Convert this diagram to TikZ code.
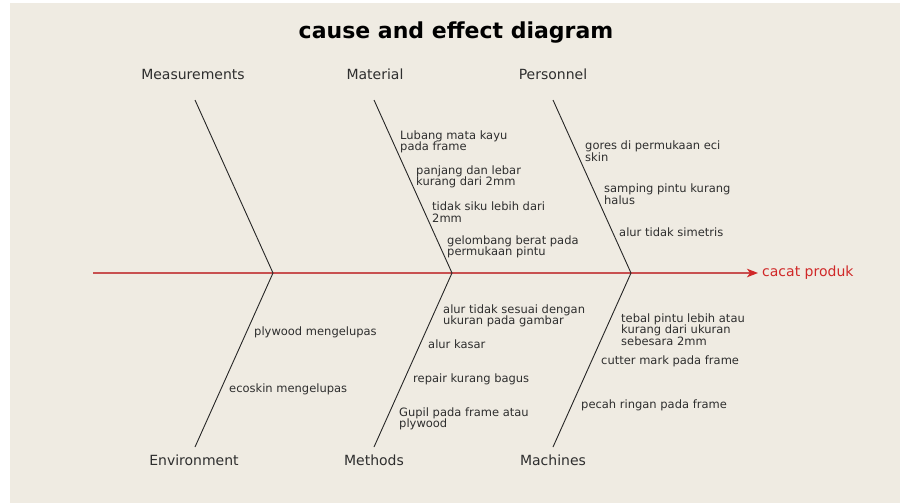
\documentclass[tikz,border=0pt]{standalone}
\usepackage{fontspec}
\setmainfont{DejaVu Sans}
\usetikzlibrary{arrows.meta}
\definecolor{bg}{HTML}{EFEBE2}
\definecolor{ink}{HTML}{2E2E2E}
\definecolor{spine}{HTML}{C85050}
\definecolor{effred}{HTML}{D02828}
\tikzset{
  cause/.style={anchor=west, align=left, inner sep=0pt, text=ink, font=\fontsize{11.5}{11.6}\selectfont},
  cat/.style={inner sep=0pt, text=ink, font=\fontsize{14}{15}\selectfont},
  rib/.style={draw=black!85, line width=0.9pt},
}
\begin{document}
\begin{tikzpicture}[x=1pt,y=-1pt]
\useasboundingbox (0,0) rectangle (900,503);
\fill[white] (0,0) rectangle (900,503);
\fill[bg] (10,3) rectangle (900,503);

\node[inner sep=0pt, font=\bfseries\fontsize{22}{24}\selectfont, text=black] (title) at (456,33) {cause and effect diagram};

% spine
\coordinate (tail) at (93,273);
\coordinate (head) at (758,273);
\coordinate (j1) at (273,273);
\coordinate (j2) at (452,273);
\coordinate (j3) at (631,273);
\draw[draw=spine, line width=1.4pt, -{Stealth[length=11pt,width=8.5pt,inset=3pt,color=effred]}] (tail) -- (head);
\node[anchor=west, inner sep=0pt, text=effred, font=\fontsize{14}{15}\selectfont] (effect) at (762,273) {cacat produk};

% category labels
\node[cat] (meas) at (193,74) {Measurements};
\node[cat] (mat) at (375,74) {Material};
\node[cat] (pers) at (553,74) {Personnel};
\node[cat] (env) at (194,460) {Environment};
\node[cat] (meth) at (374,460) {Methods};
\node[cat] (mach) at (553,460) {Machines};

% rib ends
\coordinate (t1) at (195,100);
\coordinate (t2) at (374,100);
\coordinate (t3) at (553,100);
\coordinate (b1) at (195,447);
\coordinate (b2) at (374,447);
\coordinate (b3) at (553,447);
\draw[rib] (t1) -- (j1) -- (b1);
\draw[rib] (t2) -- (j2) -- (b2);
\draw[rib] (t3) -- (j3) -- (b3);

% Material causes
\node[cause] (m1) at (400,142) {Lubang mata kayu\\pada frame};
\node[cause] (m2) at (416,177) {panjang dan lebar\\kurang dari 2mm};
\node[cause] (m3) at (432,212) {tidak siku lebih dari\\2mm};
\node[cause] (m4) at (447,247) {gelombang berat pada\\permukaan pintu};

% Personnel causes
\node[cause] (p1) at (585,151.5) {gores di permukaan eci\\skin};
\node[cause] (p2) at (604,194) {samping pintu kurang\\halus};
\node[cause] (p3) at (619,232) {alur tidak simetris};

% Environment causes
\node[cause] (e1) at (254,332) {plywood mengelupas};
\node[cause] (e2) at (229,389) {ecoskin mengelupas};

% Methods causes
\node[cause] (d1) at (443,316) {alur tidak sesuai dengan\\ukuran pada gambar};
\node[cause] (d2) at (428,344) {alur kasar};
\node[cause] (d3) at (413,379) {repair kurang bagus};
\node[cause] (d4) at (399,419) {Gupil pada frame atau\\plywood};

% Machines causes
\node[cause] (c1) at (621,329.5) {tebal pintu lebih atau\\kurang dari ukuran\\sebesara 2mm};
\node[cause] (c2) at (601,361) {cutter mark pada frame};
\node[cause] (c3) at (581,405) {pecah ringan pada frame};
\end{tikzpicture}
\end{document}
